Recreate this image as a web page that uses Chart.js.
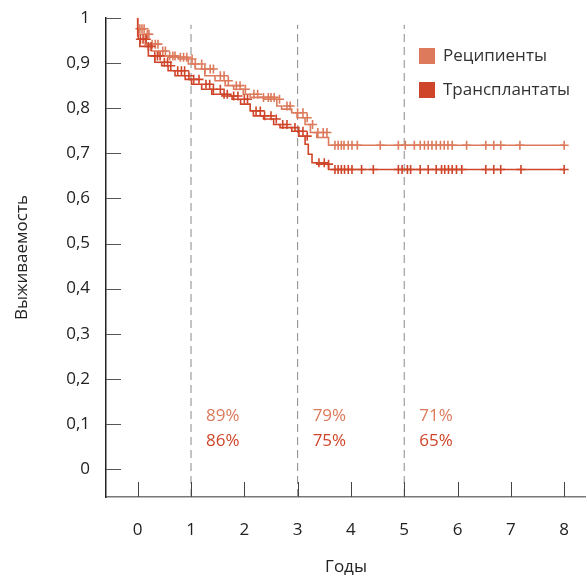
<!DOCTYPE html>
<html>
<head>
<meta charset="utf-8">
<script src="https://cdn.jsdelivr.net/npm/chart.js@4.4.1/dist/chart.umd.min.js"></script>
<style>
  html, body { margin: 0; padding: 0; background: #fff; }
  #wrap { width: 586px; height: 577px; }
</style>
</head>
<body>
<div id="wrap"><canvas id="kmChart" width="586" height="577"></canvas></div>
<script>
const seriesNames = ['Реципиенты', 'Трансплантаты'];
const seriesColors = ['#dc7a5b', '#cf4529'];

// Kaplan-Meier steps: [years, survival]
const recipSteps = [
  [0, 1], [0.01, 0.976], [0.14, 0.964], [0.26, 0.942], [0.39, 0.927], [0.57, 0.916],
  [0.76, 0.913], [0.95, 0.909], [1.08, 0.898], [1.26, 0.887], [1.45, 0.872], [1.64, 0.861],
  [1.8, 0.85], [1.98, 0.842], [2.11, 0.831], [2.36, 0.824], [2.61, 0.82], [2.7, 0.805],
  [2.89, 0.798], [2.99, 0.79], [3.14, 0.779], [3.24, 0.764], [3.36, 0.746], [3.58, 0.735],
  [3.67, 0.718], [8.0, 0.718]
];
const transSteps = [
  [0, 1], [0.01, 0.96], [0.04, 0.953], [0.2, 0.937], [0.32, 0.916], [0.45, 0.902], [0.57, 0.894],
  [0.7, 0.883], [0.89, 0.872], [1.01, 0.864], [1.2, 0.853], [1.39, 0.842], [1.58, 0.831],
  [1.77, 0.827], [1.93, 0.82], [2.11, 0.809], [2.17, 0.794], [2.36, 0.783], [2.55, 0.776],
  [2.67, 0.764], [2.89, 0.757], [3.02, 0.749], [3.14, 0.738], [3.2, 0.72], [3.27, 0.698],
  [3.36, 0.679], [3.58, 0.676], [3.67, 0.664], [8.0, 0.664]
];

// censored observations (years)
const recipCensor = [
  0.04, 0.08, 0.12, 0.18, 0.21, 0.27, 0.33, 0.38, 0.47, 0.52, 0.6, 0.66, 0.7, 0.8, 0.86, 0.92,
  1.02, 1.08, 1.2, 1.26, 1.36, 1.42, 1.55, 1.62, 1.7, 1.85, 1.92, 2.02, 2.18, 2.25, 2.36, 2.45,
  2.5, 2.56, 2.66, 2.8, 2.86, 3.0, 3.1, 3.18, 3.28, 3.38, 3.48, 3.55,
  3.7, 3.76, 3.82, 3.87, 3.95, 4.02, 4.12, 4.55, 4.89, 5.02, 5.19, 5.3, 5.38, 5.45, 5.52, 5.6,
  5.68, 5.75, 5.82, 5.9, 6.17, 6.53, 6.68, 6.81, 7.17, 8.0
];
const transCensor = [
  0.05, 0.1, 0.16, 0.2, 0.25, 0.32, 0.37, 0.42, 0.5, 0.56, 0.62, 0.75, 0.82, 0.88, 0.96, 1.05,
  1.15, 1.28, 1.35, 1.42, 1.55, 1.62, 1.68, 1.8, 1.88, 2.0, 2.06, 2.22, 2.3, 2.38, 2.5, 2.6,
  2.72, 2.8, 2.95, 3.02, 3.1, 3.18, 3.4, 3.5, 3.58,
  3.7, 3.76, 3.82, 3.88, 3.95, 4.02, 4.2, 4.42, 4.89, 4.96, 5.06, 5.12, 5.3, 5.45, 5.6, 5.7,
  5.76, 5.83, 5.9, 5.98, 6.08, 6.53, 6.68, 6.81, 7.19, 8.0
];

const markYears = [1, 3, 5];
const recipPct = ['89%', '79%', '71%'];
const transPct = ['86%', '75%', '65%'];

const xTicks = [0, 1, 2, 3, 4, 5, 6, 7, 8];
const yTicks = [0, 0.1, 0.2, 0.3, 0.4, 0.5, 0.6, 0.7, 0.8, 0.9, 1];

const FONT = '"Open Sans", "Noto Sans", sans-serif';

function toPoints(steps) {
  return steps.map(p => ({ x: p[0], y: p[1] }));
}

// survival value of the step curve at time t
function survAt(steps, t) {
  let s = steps[0][1];
  for (const p of steps) { if (p[0] <= t) s = p[1]; }
  return s;
}

function censorPoints(steps, times) {
  return times.map(t => ({ x: t, y: survAt(steps, t) }));
}

function dashLine(year) {
  return {
    type: 'line',
    data: [{ x: year, y: -0.062 }, { x: year, y: 0.985 }],
    borderColor: '#8a8a8a',
    borderWidth: 1,
    borderDash: [8, 5],
    pointRadius: 0,
    order: 10
  };
}

const kmDecor = {
  id: 'kmDecor',
  afterDraw(chart) {
    const { ctx, scales: { x, y } } = chart;
    ctx.save();
    // inward ticks
    ctx.lineWidth = 1;
    ctx.strokeStyle = '#444';
    const axisY = y.getPixelForValue(y.min);
    xTicks.forEach(v => {
      const px = Math.round(x.getPixelForValue(v)) + 0.5;
      ctx.beginPath(); ctx.moveTo(px, axisY); ctx.lineTo(px, axisY - 15); ctx.stroke();
    });
    const axisX = x.getPixelForValue(x.min);
    ctx.strokeStyle = '#555';
    yTicks.forEach(v => {
      const py = Math.round(y.getPixelForValue(v)) + 0.5;
      ctx.beginPath(); ctx.moveTo(axisX, py); ctx.lineTo(axisX + 15, py); ctx.stroke();
    });

    // percentages at 1, 3, 5 years
    ctx.font = '17px ' + FONT;
    ctx.textBaseline = 'middle';
    ctx.textAlign = 'left';
    markYears.forEach((yr, i) => {
      const px = x.getPixelForValue(yr) + 15;
      ctx.fillStyle = seriesColors[0];
      ctx.fillText(recipPct[i], px, y.getPixelForValue(0.117));
      ctx.fillStyle = seriesColors[1];
      ctx.fillText(transPct[i], px, y.getPixelForValue(0.061));
    });

    // legend
    ctx.font = '17px ' + FONT;
    seriesNames.forEach((name, i) => {
      const top = 48 + i * 34;
      ctx.fillStyle = seriesColors[i];
      ctx.fillRect(419, top, 16, 16);
      ctx.fillStyle = '#333';
      ctx.fillText(name, 443, top + 8);
    });
    ctx.restore();
  }
};

new Chart(document.getElementById('kmChart'), {
  type: 'line',
  data: {
    datasets: [
      {
        label: seriesNames[0],
        data: toPoints(recipSteps),
        stepped: 'after',
        borderColor: seriesColors[0],
        borderWidth: 1.6,
        pointRadius: 0,
        order: 2
      },
      {
        label: seriesNames[1],
        data: toPoints(transSteps),
        stepped: 'after',
        borderColor: seriesColors[1],
        borderWidth: 1.6,
        pointRadius: 0,
        order: 1
      },
      {
        label: 'censor1',
        data: censorPoints(recipSteps, recipCensor),
        showLine: false,
        pointStyle: 'cross',
        pointRadius: 4.5,
        pointBorderWidth: 1.6,
        pointBorderColor: seriesColors[0],
        order: 2
      },
      {
        label: 'censor2',
        data: censorPoints(transSteps, transCensor),
        showLine: false,
        pointStyle: 'cross',
        pointRadius: 4.5,
        pointBorderWidth: 1.6,
        pointBorderColor: seriesColors[1],
        order: 1
      },
      ...markYears.map(dashLine)
    ]
  },
  options: {
    responsive: false,
    animation: false,
    layout: { autoPadding: false, padding: { top: 18, right: 0, left: 0, bottom: 0 } },
    plugins: { legend: { display: false }, tooltip: { enabled: false } },
    scales: {
      x: {
        type: 'linear',
        min: -0.595,
        max: 8.41,
        afterBuildTicks: s => { s.ticks = xTicks.map(v => ({ value: v })); },
        afterFit: s => { s.height = 80; s.paddingLeft = 0; s.paddingRight = 0; },
        grid: { display: false, drawTicks: false },
        border: { display: true, color: '#777', width: 1.5 },
        ticks: { padding: 23, color: '#222', font: { family: FONT, size: 17 } },
        title: {
          display: true, text: 'Годы', color: '#222',
          font: { family: FONT, size: 17 }, padding: { top: 0, bottom: 0 }
        }
      },
      y: {
        min: -0.062,
        max: 1,
        afterBuildTicks: s => { s.ticks = yTicks.map(v => ({ value: v })); },
        afterFit: s => { s.width = 106; s.paddingTop = 0; s.paddingBottom = 0; },
        grid: { display: false, drawTicks: false },
        border: { display: true, color: '#222', width: 1.5 },
        ticks: {
          padding: 16, color: '#222', font: { family: FONT, size: 17 },
          callback: v => String(Math.round(v * 10) / 10).replace('.', ',')
        },
        title: {
          display: true, text: 'Выживаемость', color: '#222',
          font: { family: FONT, size: 17 }, padding: { top: 12, bottom: 0 }
        }
      }
    }
  },
  plugins: [kmDecor]
});
</script>
</body>
</html>
